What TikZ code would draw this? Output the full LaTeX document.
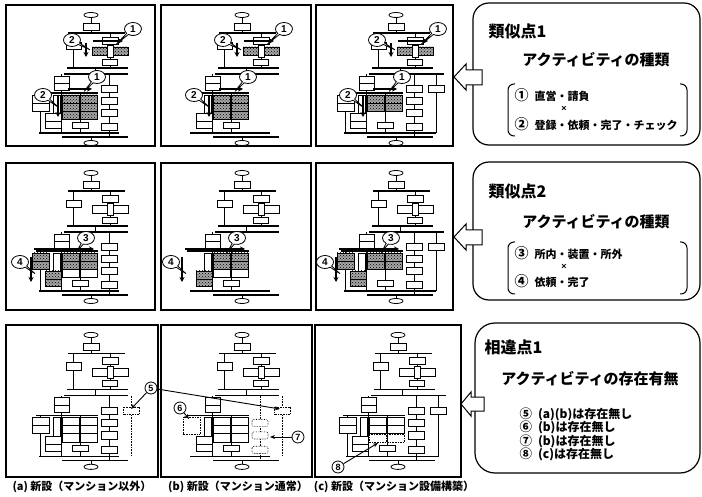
\documentclass[tikz,border=0pt]{standalone}
\usepackage{fontspec}
\setmainfont{Liberation Sans}
\newfontfamily\cjk{Noto Sans CJK JP}
\usetikzlibrary{patterns,shapes.callouts,arrows.meta}
\newif\ifgridthree \newif\ifleftgrp \newif\ifrightcol \newif\ifextra \newif\ifmissing
\newcommand\cn[1]{{\fontsize{14}{14}\selectfont #1}}
\newcommand\cs[1]{{\fontsize{12.5}{12.5}\selectfont #1}}
\tikzset{
  bx/.style={draw, fill=white, line width=0.8pt},
  hb/.style={draw, line width=0.8pt, fill=black!35, postaction={pattern=crosshatch dots, pattern color=black}},
  mb/.style={draw, densely dotted, line width=0.6pt},
  ln/.style={line width=0.8pt},
  bar/.style={line width=1.1pt},
  sideS/.style={bx}, gridS/.style={bx}, gridT/.style={bx}, leftS/.style={bx}, llS/.style={bx},
  frame/.style={draw, line width=1.1pt},
  ann/.style={line width=1.5pt, -{Stealth[length=5pt,width=5pt]}},
  co/.style={ellipse callout, draw, fill=white, line width=0.8pt, minimum width=17pt, minimum height=13pt, inner sep=0pt, font=\bfseries\fontsize{10}{10}\selectfont},
  circ/.style={circle, draw, fill=white, line width=0.8pt, minimum size=12pt, inner sep=0pt, font=\bfseries\fontsize{9}{9}\selectfont},
  thinarr/.style={line width=0.9pt, -{Stealth[length=5pt,width=4pt]}},
  rbox/.style={draw, line width=1.2pt, rounded corners=16pt},
  barrow/.style={draw, fill=white, line width=1pt},
  brk/.style={line width=1pt, rounded corners=6pt},
  ttl/.style={anchor=west, font=\cjk\bfseries\fontsize{16}{16}\selectfont},
  hdr/.style={font=\cjk\bfseries\fontsize{15}{15}\selectfont},
  itm/.style={anchor=west, font=\cjk\bfseries\fontsize{11}{12}\selectfont},
  itmb/.style={anchor=west, font=\cjk\bfseries\fontsize{12}{12}\selectfont},
  captxt/.style={font=\cjk\bfseries\fontsize{11}{11}\selectfont},
}
\newcommand\flow{%
 \draw[ln] (0,2) -- (0,18);
 \draw[bx] (0,0) ellipse (7 and 2.5);
 \draw[bx] (-8,8) rectangle (8,15);
 \draw[bar] (-23,18) -- (34,18);
 \draw[ln] (-18,18) -- (-18,53);
 \draw[ln] (19,18) -- (19,53);
 \draw[bx] (-25,27) rectangle (-10,34);
 \draw[bx] (11,22) rectangle (27,29);
 \draw[sideS] (1,32) rectangle (16,40);
 \draw[sideS] (22,32) rectangle (37,40);
 \draw[bx] (16,30) rectangle (22,42);
 \draw[bx] (11,44) rectangle (26,50);
 \draw[bar] (-24,53) -- (37,53);
 \draw[ln] (4,53) -- (4,59);
 \ifextra \draw[bar] (-27,59) -- (48,59); \else \draw[bar] (-27,59) -- (37,59); \fi
 \draw[ln] (-30,59) -- (-30,118);
 \draw[bx] (-37,61) rectangle (-22,68);
 \draw[bx] (-37,68) rectangle (-22,75);
 \draw[bar] (-55,78) -- (7,78);
 \draw[ln] (-11,78) -- (-11,118);
 \draw[bx] (-38,80) rectangle (-31,100);
 \draw[gridS] (-29,80) rectangle (-12,88);
 \draw[gridS] (-11,80) rectangle (6,88);
 \draw[gridS] (-29,88) rectangle (-12,96);
 \draw[gridS] (-11,88) rectangle (6,96);
 \ifgridthree
   \draw[gridT] (-29,96) rectangle (-12,104);
   \draw[gridT] (-11,96) rectangle (6,104);
 \else\ifmissing
   \draw[mb] (-29,96) rectangle (-12,104);
   \draw[mb] (-11,96) rectangle (6,104);
 \fi\fi
 \ifleftgrp
   \draw[ln] (-51,78) -- (-51,118);
   \draw[leftS] (-59,80) rectangle (-42,88);
   \draw[leftS] (-59,88) rectangle (-42,96);
 \else\ifmissing
   \draw[mb] (-59,80) rectangle (-42,96);
 \fi\fi
 \draw[llS] (-46,98) rectangle (-30,106);
 \draw[llS] (-46,106) rectangle (-30,113);
 \draw[bx] (-19,107) rectangle (-3,113);
 \ifextra \draw[bar] (-52,118) -- (40,118); \else \draw[bar] (-52,118) -- (28,118); \fi
 \ifrightcol
   \draw[ln] (18,59) -- (18,122);
   \foreach \a/\b in {70/77,82/89,94/101,108/115} \draw[bx] (10,\a) rectangle (26,\b);
 \else\ifmissing
   \draw[mb] (18,59) -- (18,122);
   \foreach \a/\b in {82/89,94/101,108/115} \draw[mb, fill=white, rounded corners=2pt] (10,\a) rectangle (26,\b);
 \fi\fi
 \ifextra
   \draw[ln] (40,59) -- (40,118);
   \draw[bx] (32,70) rectangle (48,77);
 \else\ifmissing
   \draw[mb] (40,59) -- (40,118);
   \draw[mb, fill=white] (32,70) rectangle (48,77);
 \fi\fi
 \draw[bar] (-29,122) -- (37,122);
 \draw[ln] (0,122) -- (0,126);
 \draw[bx] (0,128) ellipse (7 and 2.5);
}
\newcommand\annone[1]{%
 \draw[ann] (2,26) -- (32,26);
 \node[co, callout relative pointer={(-11,10)}] (one#1) at (42,14) {1};
 \draw[ann] (-5,28) -- (-5,42);
 \node[co, callout relative pointer={(11,6)}] (two#1) at (-19,25) {2};
 \draw[ann] (-23,74) -- (1,74);
 \node[co, callout relative pointer={(-8,9)}] (oneb#1) at (6,62) {1};
 \draw[ann] (-33,80) -- (-33,102);
 \node[co, callout relative pointer={(10,8)}] (twob#1) at (-48,80) {2};
}
\newcommand\anntwo[1]{%
 \draw[ann] (-57,76) -- (3,76);
 \node[co, callout relative pointer={(-6,9)}] (three#1) at (-5,65) {3};
 \draw[ann] (-60,84) -- (-60,109);
 \node[co, callout relative pointer={(9,7)}] (four#1) at (-71,89) {4};
}
\begin{document}
\begin{tikzpicture}[x=1pt,y=-1pt]
\useasboundingbox (0,0) rectangle (702,497);
\fill[white] (0,0) rectangle (702,497);
% panel frames
\draw[frame] (6,5) rectangle (155,146);
\draw[frame] (161,5) rectangle (311,146);
\draw[frame] (316,5) rectangle (453,146);
\draw[frame] (6,163) rectangle (155,310);
\draw[frame] (161,163) rectangle (311,310);
\draw[frame] (316,163) rectangle (453,310);
\draw[frame] (6,325) rectangle (158,477);
\draw[frame] (161,325) rectangle (312,477);
\draw[frame] (315,325) rectangle (461,477);
% row 1
\tikzset{sideS/.style={hb}, gridS/.style={hb}, gridT/.style={hb}, leftS/.style={bx}, llS/.style={bx}}
\missingfalse
\gridthreetrue\leftgrptrue\rightcoltrue\extrafalse
\begin{scope}[shift={(91,15)}] \flow \annone{a} \end{scope}
\gridthreetrue\leftgrpfalse\rightcolfalse\extrafalse
\begin{scope}[shift={(242,15)}] \flow \annone{b} \end{scope}
\gridthreefalse\leftgrptrue\rightcoltrue\extratrue
\begin{scope}[shift={(396,15)}] \flow \annone{c} \end{scope}
% row 2
\tikzset{sideS/.style={bx}, gridS/.style={hb}, gridT/.style={bx}, leftS/.style={hb}, llS/.style={hb}}
\gridthreetrue\leftgrptrue\rightcoltrue\extrafalse
\begin{scope}[shift={(91,173)}] \flow \anntwo{a} \end{scope}
\gridthreetrue\leftgrpfalse\rightcolfalse\extrafalse
\begin{scope}[shift={(242,173)}] \flow \anntwo{b} \end{scope}
\gridthreefalse\leftgrptrue\rightcoltrue\extratrue
\begin{scope}[shift={(396,173)}] \flow \anntwo{c} \end{scope}
% row 3
\tikzset{sideS/.style={bx}, gridS/.style={bx}, gridT/.style={bx}, leftS/.style={bx}, llS/.style={bx}}
\missingtrue
\gridthreetrue\leftgrptrue\rightcoltrue\extrafalse
\begin{scope}[shift={(91,335)}, yscale=1.03] \flow \end{scope}
\gridthreetrue\leftgrpfalse\rightcolfalse\extrafalse
\begin{scope}[shift={(242,335)}, yscale=1.03] \flow \end{scope}
\gridthreefalse\leftgrptrue\rightcoltrue\extratrue
\begin{scope}[shift={(398,335)}, yscale=1.03] \flow \end{scope}
% row 3 markers
\coordinate (t5a) at (131,409);
\coordinate (t5b) at (280,409);
\coordinate (t6) at (189,419);
\coordinate (t7) at (270,437);
\coordinate (t8) at (378,443);
\node[circ] (m5) at (151,388) {5};
\draw[thinarr] (m5) -- (t5a);
\draw[thinarr] (m5) -- (t5b);
\node[circ] (m6) at (180,408) {6};
\draw[thinarr] (m6) -- (t6);
\node[circ] (m7) at (298,437) {7};
\draw[thinarr] (m7) -- (t7);
\node[circ] (m8) at (338,467) {8};
\draw[thinarr] (m8) -- (t8);
% right boxes
\draw[rbox] (473,3) rectangle (700,145);
\draw[rbox] (473,162) rectangle (700,300);
\draw[rbox, rounded corners=20pt] (475,323) rectangle (700,473);
% block arrows
\draw[barrow] (454,77) -- (466,64) -- (466,70) -- (482,70) -- (482,85) -- (466,85) -- (466,90) -- cycle;
\draw[barrow] (454,237) -- (466,224) -- (466,230) -- (482,230) -- (482,245) -- (466,245) -- (466,250) -- cycle;
\draw[barrow] (461,404) -- (471,392) -- (471,397) -- (484,397) -- (484,411) -- (471,411) -- (471,416) -- cycle;
% box 1 text
\node[ttl] (t1) at (485,31) {類似点1};
\node[hdr] (h1) at (596,60) {アクティビティの種類};
\node[itm] (i1) at (511,95) {\cn{①}\hspace{6pt}直営・請負};
\node[font=\bfseries\fontsize{9}{9}\selectfont] (x1) at (564,109) {×};
\node[itm] (i2) at (511,124) {\cn{②}\hspace{6pt}登録・依頼・完了・チェック};
\draw[brk] (515,84) -- (508,84) -- (508,136) -- (515,136);
\draw[brk] (680,84) -- (687,84) -- (687,136) -- (680,136);
% box 2 text
\node[ttl] (t2) at (485,191) {類似点2};
\node[hdr] (h2) at (596,222) {アクティビティの種類};
\node[itm] (i3) at (511,253) {\cn{③}\hspace{6pt}所内・装置・所外};
\node[font=\bfseries\fontsize{9}{9}\selectfont] (x2) at (564,267) {×};
\node[itm] (i4) at (511,281) {\cn{④}\hspace{6pt}依頼・完了};
\draw[brk] (515,242) -- (508,242) -- (508,294) -- (515,294);
\draw[brk] (680,242) -- (687,242) -- (687,294) -- (680,294);
% box 3 text
\node[ttl] (t3) at (481,347) {相違点1};
\node[hdr] (h3) at (590,379) {アクティビティの存在有無};
\node[itmb] (i5) at (516,414) {\cs{⑤}\hspace{6pt}(a)(b)は存在無し};
\node[itmb] (i6) at (516,427.5) {\cs{⑥}\hspace{6pt}(b)は存在無し};
\node[itmb] (i7) at (516,441) {\cs{⑦}\hspace{6pt}(b)は存在無し};
\node[itmb] (i8) at (516,454.5) {\cs{⑧}\hspace{6pt}(c)は存在無し};
% captions
\node[captxt] (ca) at (82,487) {(a) 新設（マンション以外）};
\node[captxt] (cb) at (238,487) {(b) 新設（マンション通常）};
\node[captxt] (cc) at (394,487) {(c) 新設（マンション設備構築）};
\end{tikzpicture}
\end{document}
